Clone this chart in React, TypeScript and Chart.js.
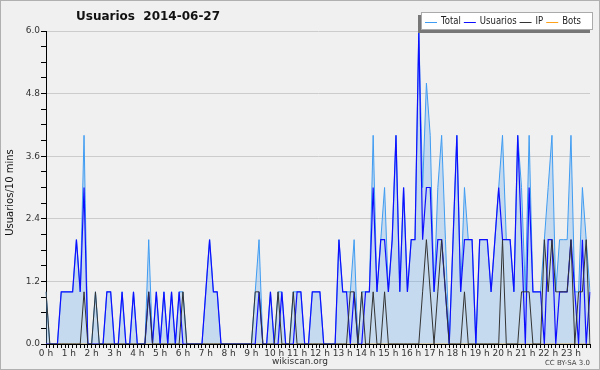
import React, { useEffect, useRef } from 'react';
import { Chart, registerables } from 'chart.js';

Chart.register(...registerables);

const titleText = 'Usuarios  2014-06-27';
const yTitle = 'Usuarios/10 mins';
const footerText = 'wikiscan.org';
const licenseText = 'CC BY-SA 3.0';

// 144 ten-minute slots; an hour label every 6 slots
const hourLabels: string[] = [];
for (let h = 0; h < 24; h++) {
  hourLabels.push(`${h} h`, '', '', '', '', '');
}

const total = [
  1, 0, 0, 0, 1, 1, 1, 1, 2, 1, 4, 0,
  0, 1, 0, 0, 1, 1, 0, 0, 1, 0, 0, 1,
  0, 0, 0, 2, 0, 1, 0, 1, 0, 1, 0, 1,
  1, 0, 0, 0, 0, 0, 1, 2, 1, 1, 0, 0,
  0, 0, 0, 0, 0, 0, 0, 1, 2, 0, 0, 1,
  0, 1, 1, 0, 0, 1, 1, 1, 0, 0, 1, 1,
  1, 0, 0, 0, 0, 2, 1, 1, 1, 2, 0, 1,
  1, 1, 4, 1, 2, 3, 1, 2, 4, 1, 3, 1,
  2, 2, 6, 3, 5, 4, 1, 3, 4, 2, 0, 2,
  4, 1, 3, 2, 2, 0, 2, 2, 2, 1, 2, 3,
  4, 2, 2, 1, 4, 3, 1, 4, 1, 1, 1, 2,
  3, 4, 1, 2, 2, 2, 4, 1, 1, 3, 2, 1,
];

const usuarios = [
  0, 0, 0, 0, 1, 1, 1, 1, 2, 1, 3, 0,
  0, 0, 0, 0, 1, 1, 0, 0, 1, 0, 0, 1,
  0, 0, 0, 1, 0, 1, 0, 1, 0, 1, 0, 1,
  0, 0, 0, 0, 0, 0, 1, 2, 1, 1, 0, 0,
  0, 0, 0, 0, 0, 0, 0, 0, 1, 0, 0, 1,
  0, 0, 1, 0, 0, 0, 1, 1, 0, 0, 1, 1,
  1, 0, 0, 0, 0, 2, 1, 1, 0, 1, 0, 0,
  1, 1, 3, 1, 2, 2, 1, 2, 4, 1, 3, 1,
  2, 2, 6, 2, 3, 3, 1, 2, 2, 1, 0, 2,
  4, 1, 2, 2, 2, 0, 2, 2, 2, 1, 2, 3,
  2, 2, 2, 1, 4, 2, 0, 3, 1, 1, 1, 0,
  2, 2, 0, 1, 1, 1, 2, 1, 0, 2, 0, 1,
];

const ip = [
  1, 0, 0, 0, 0, 0, 0, 0, 0, 0, 1, 0,
  0, 1, 0, 0, 0, 0, 0, 0, 0, 0, 0, 0,
  0, 0, 0, 1, 0, 0, 0, 0, 0, 0, 0, 0,
  1, 0, 0, 0, 0, 0, 0, 0, 0, 0, 0, 0,
  0, 0, 0, 0, 0, 0, 0, 1, 1, 0, 0, 0,
  0, 1, 0, 0, 0, 1, 0, 0, 0, 0, 0, 0,
  0, 0, 0, 0, 0, 0, 0, 0, 1, 1, 0, 1,
  0, 0, 1, 0, 0, 1, 0, 0, 0, 0, 0, 0,
  0, 0, 0, 1, 2, 1, 0, 1, 2, 1, 0, 0,
  0, 0, 1, 0, 0, 0, 0, 0, 0, 0, 0, 0,
  2, 0, 0, 0, 0, 1, 1, 1, 0, 0, 0, 2,
  1, 2, 1, 1, 1, 1, 2, 0, 1, 1, 2, 0,
];

const bots = [
  0, 0, 0, 0, 0, 0, 0, 0, 0, 0, 0, 0,
  0, 0, 0, 0, 0, 0, 0, 0, 0, 0, 0, 0,
  0, 0, 0, 0, 0, 0, 0, 0, 0, 0, 0, 0,
  0, 0, 0, 0, 0, 0, 0, 0, 0, 0, 0, 0,
  0, 0, 0, 0, 0, 0, 0, 0, 0, 0, 0, 0,
  0, 0, 0, 0, 0, 0, 0, 0, 0, 0, 0, 0,
  0, 0, 0, 0, 0, 0, 0, 0, 0, 0, 0, 0,
  0, 0, 0, 0, 0, 0, 0, 0, 0, 0, 0, 0,
  0, 0, 0, 0, 0, 0, 0, 0, 0, 0, 0, 0,
  0, 0, 0, 0, 0, 0, 0, 0, 0, 0, 0, 0,
  0, 0, 0, 0, 0, 0, 0, 0, 0, 0, 0, 0,
  0, 0, 0, 0, 0, 0, 0, 0, 0, 0, 0, 0,
];

const seriesNames = ['Total', 'Usuarios', 'IP', 'Bots'];
const seriesColors = ['#3f9cf2', '#0f0fff', '#333333', '#ffa21a'];

const FONT = '"DejaVu Sans", "Liberation Sans", sans-serif';

const isMajor = (v: number) => Math.abs(v / 1.2 - Math.round(v / 1.2)) < 1e-6;

const decorPlugin = {
  id: 'decor',
  beforeDraw(chart: any) {
    const ctx = chart.ctx;
    ctx.save();
    ctx.fillStyle = '#f0f0f0';
    ctx.fillRect(0, 0, chart.width, chart.height);
    ctx.restore();
  },
  afterDraw(chart: any) {
    const ctx = chart.ctx;
    const area = chart.chartArea;
    ctx.save();
    // title
    ctx.fillStyle = '#111';
    ctx.font = `bold 12px ${FONT}`;
    ctx.textBaseline = 'middle';
    ctx.textAlign = 'left';
    ctx.fillText(titleText, 76, 17);

    // y title
    ctx.save();
    ctx.translate(10, (area.top + area.bottom) / 2 + 5);
    ctx.rotate(-Math.PI / 2);
    ctx.font = `10px ${FONT}`;
    ctx.textAlign = 'center';
    ctx.textBaseline = 'middle';
    ctx.fillStyle = '#111';
    ctx.fillText(yTitle, 0, 0);
    ctx.restore();

    // footer
    ctx.font = `9px ${FONT}`;
    ctx.fillStyle = '#333';
    ctx.textAlign = 'center';
    ctx.textBaseline = 'middle';
    ctx.fillText(footerText, 300, 362);
    ctx.font = `7px ${FONT}`;
    ctx.textAlign = 'right';
    ctx.fillStyle = '#444';
    ctx.fillText(licenseText, 590, 363);

    // legend
    const lx = 421, ly = 12, lw = 172, lh = 18;
    ctx.fillStyle = '#777';
    ctx.fillRect(lx - 3, ly + 3, lw, lh);
    ctx.fillStyle = '#fff';
    ctx.fillRect(lx, ly, lw, lh);
    ctx.strokeStyle = '#aaa';
    ctx.lineWidth = 1;
    ctx.strokeRect(lx + 0.5, ly + 0.5, lw - 1, lh - 1);
    ctx.font = `10px ${FONT}`;
    ctx.textAlign = 'left';
    ctx.textBaseline = 'middle';
    const sx = 0.85;
    let x = lx + 4;
    const cy = ly + lh / 2 + 0.5;
    seriesNames.forEach((name, i) => {
      ctx.strokeStyle = seriesColors[i];
      ctx.beginPath();
      ctx.moveTo(x, Math.round(cy) + 0.5);
      ctx.lineTo(x + 12, Math.round(cy) + 0.5);
      ctx.stroke();
      const tx = x + 16;
      const w = ctx.measureText(name).width * sx;
      ctx.save();
      ctx.translate(tx, cy);
      ctx.scale(sx, 1);
      ctx.fillStyle = '#222';
      ctx.fillText(name, 0, 0);
      ctx.restore();
      x = tx + w + 3;
    });

    // outer frame
    ctx.strokeStyle = '#b0b0b0';
    ctx.lineWidth = 1;
    ctx.strokeRect(0.5, 0.5, chart.width - 1, chart.height - 1);
    ctx.restore();
  },
};

export default function App() {
  const ref = useRef<HTMLCanvasElement | null>(null);

  useEffect(() => {
    document.body.style.margin = '0';
    const canvas = ref.current;
    if (!canvas) return;
    const chart = new Chart(canvas, {
      type: 'line',
      data: {
        labels: hourLabels,
        datasets: [
          {
            label: seriesNames[0],
            data: total,
            borderColor: seriesColors[0],
            backgroundColor: 'rgba(100,170,235,0.3)',
            fill: 'origin',
            borderWidth: 1,
            pointRadius: 0,
            tension: 0,
            order: 2,
          },
          {
            label: seriesNames[1],
            data: usuarios,
            borderColor: seriesColors[1],
            borderWidth: 1.2,
            pointRadius: 0,
            fill: false,
            tension: 0,
            order: 1,
          },
          {
            label: seriesNames[2],
            data: ip,
            borderColor: seriesColors[2],
            borderWidth: 1,
            pointRadius: 0,
            fill: false,
            tension: 0,
            order: 0,
          },
          {
            label: seriesNames[3],
            data: bots,
            borderColor: seriesColors[3],
            borderWidth: 1,
            pointRadius: 0,
            fill: false,
            tension: 0,
            order: 3,
          },
        ],
      },
      options: {
        responsive: false,
        animation: false,
        devicePixelRatio: 1,
        layout: { padding: { left: 0, right: 10, top: 31, bottom: 0 } },
        plugins: {
          legend: { display: false },
          title: { display: false },
          tooltip: { enabled: false },
        },
        scales: {
          x: {
            type: 'category',
            offset: false,
            z: 1,
            border: { display: true, color: '#000', width: 1 },
            grid: {
              display: true,
              drawOnChartArea: false,
              drawTicks: true,
              tickLength: 4,
              color: '#000',
            },
            ticks: {
              autoSkip: false,
              maxRotation: 0,
              minRotation: 0,
              padding: 0,
              color: '#333',
              font: { family: FONT, size: 9 },
            },
            afterFit: (s: any) => {
              s.height = 26;
            },
          },
          y: {
            type: 'linear',
            min: 0,
            max: 6,
            border: { display: true, color: '#000', width: 1 },
            grid: {
              color: (c: any) => (c.tick && isMajor(c.tick.value) && c.tick.value > 0 ? '#cccccc' : 'rgba(0,0,0,0)'),
              tickColor: '#000',
              tickLength: 5,
              drawTicks: true,
            },
            ticks: {
              stepSize: 0.3,
              autoSkip: false,
              padding: 1,
              color: '#333',
              font: { family: FONT, size: 9 },
              callback: (v: any) => (isMajor(Number(v)) ? Number(v).toFixed(1) : ''),
            },
            afterFit: (s: any) => {
              s.width = 46;
            },
          },
        },
      },
      plugins: [decorPlugin],
    });
    return () => chart.destroy();
  }, []);

  return (
    <div style={{ width: 600, height: 370 }}>
      <canvas ref={ref} width={600} height={370} style={{ display: 'block', width: 600, height: 370 }} />
    </div>
  );
}
